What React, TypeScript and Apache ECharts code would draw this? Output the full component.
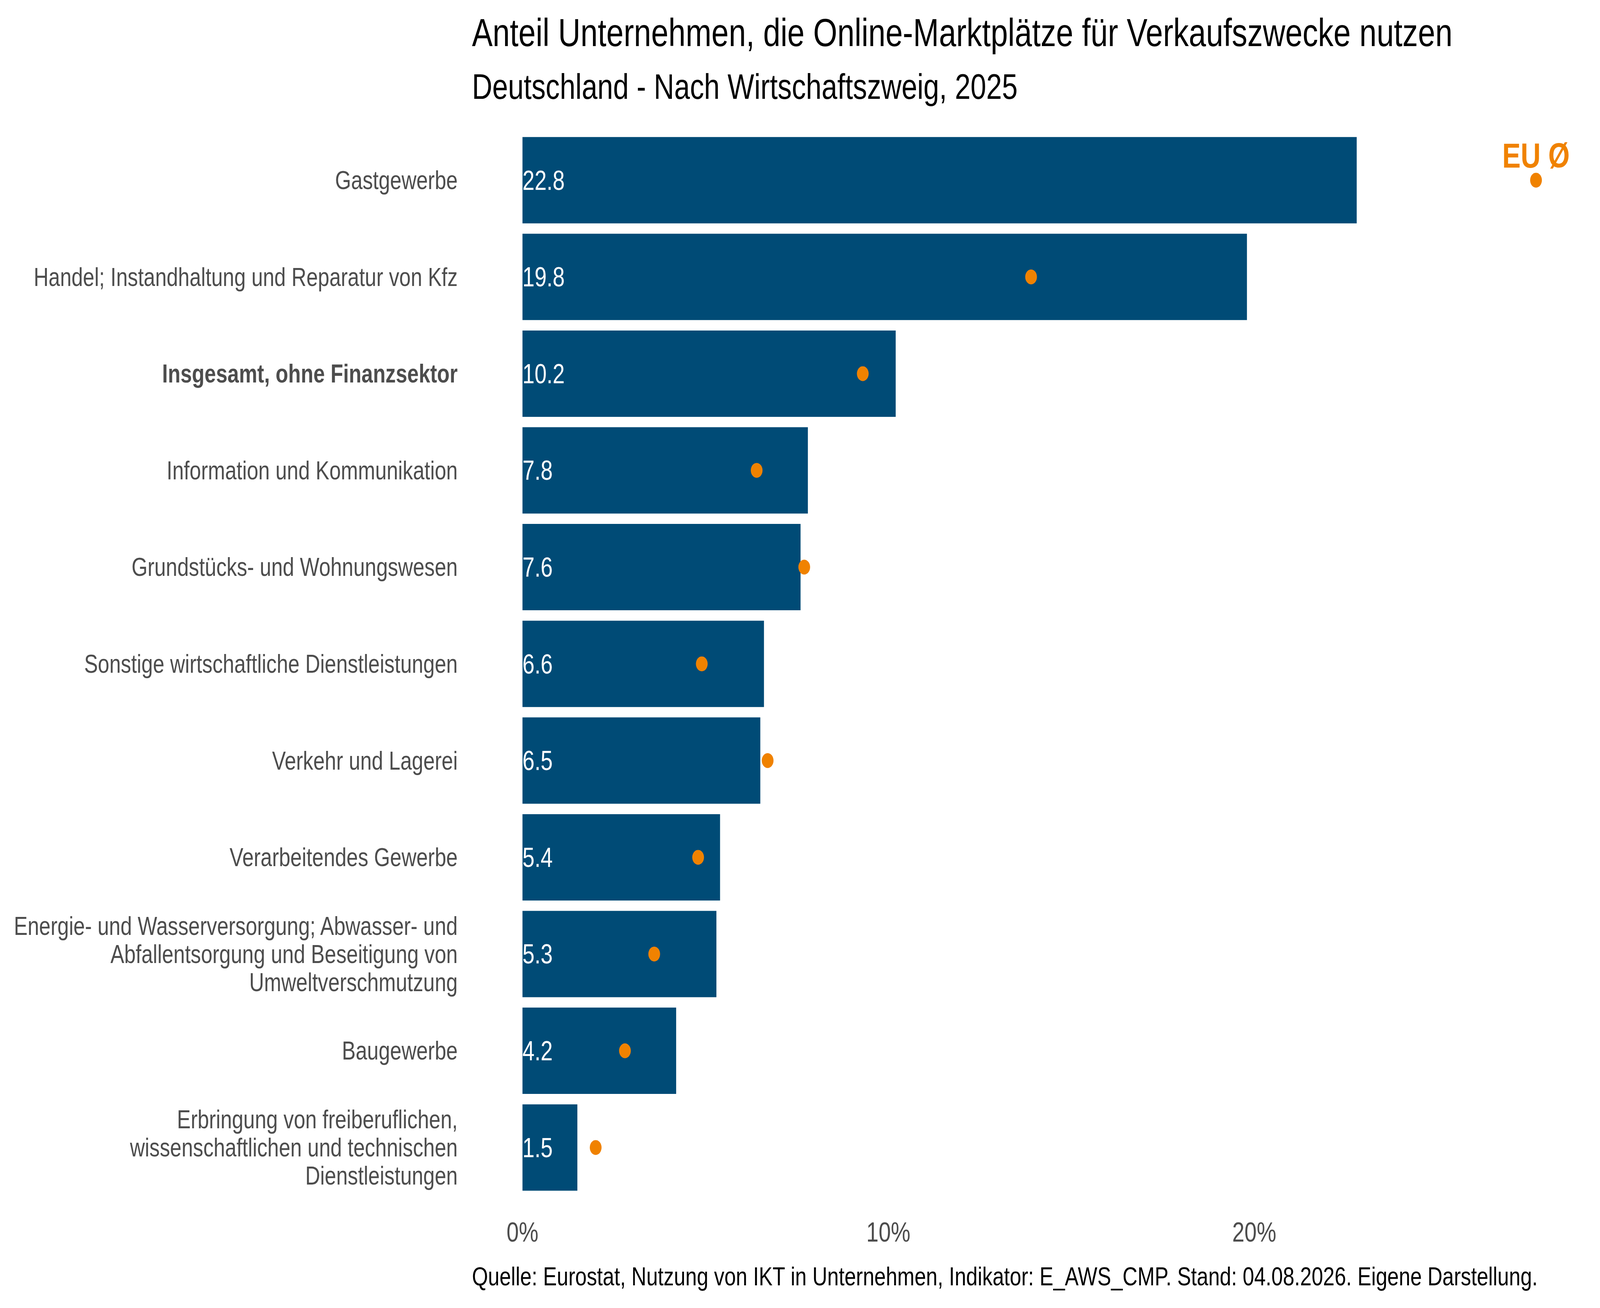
import React, { useEffect, useRef } from "react";
import * as echarts from "echarts";

const TITLE = "Anteil Unternehmen, die Online-Marktplätze für Verkaufszwecke nutzen";
const SUBTITLE = "Deutschland - Nach Wirtschaftszweig, 2025";
const SOURCE =
  "Quelle: Eurostat, Nutzung von IKT in Unternehmen, Indikator: E_AWS_CMP. Stand: 04.08.2026. Eigene Darstellung.";

const categories = [
  "Gastgewerbe",
  "Handel; Instandhaltung und Reparatur von Kfz",
  "Insgesamt, ohne Finanzsektor",
  "Information und Kommunikation",
  "Grundstücks- und Wohnungswesen",
  "Sonstige wirtschaftliche Dienstleistungen",
  "Verkehr und Lagerei",
  "Verarbeitendes Gewerbe",
  "Energie- und Wasserversorgung; Abwasser- und\nAbfallentsorgung und Beseitigung von\nUmweltverschmutzung",
  "Baugewerbe",
  "Erbringung von freiberuflichen,\nwissenschaftlichen und technischen\nDienstleistungen",
];
const highlightCategory = "Insgesamt, ohne Finanzsektor";

const deValues = [22.8, 19.8, 10.2, 7.8, 7.6, 6.6, 6.5, 5.4, 5.3, 4.2, 1.5];
const euValues = [27.7, 13.9, 9.3, 6.4, 7.7, 4.9, 6.7, 4.8, 3.6, 2.8, 2.0];

const xTickValues = [0, 10, 20];
const euLabel = "EU Ø";

const FONT = "'Liberation Sans', Arial, Helvetica, sans-serif";
const BAR_COLOR = "#004b76";
const EU_COLOR = "#f08200";

const W = 5160;
const H = 3348;

export default function App() {
  const outerRef = useRef<HTMLDivElement>(null);
  const ref = useRef<HTMLDivElement>(null);

  useEffect(() => {
    document.body.style.margin = "0";
    document.body.style.overflow = "hidden";
    const vw = window.innerWidth || W;
    const vh = window.innerHeight || H;
    const sx = Math.min(1, vw / W);
    const sy = Math.min(1, vh / H);
    const outer = outerRef.current as HTMLDivElement;
    outer.style.width = `${W * sx}px`;
    outer.style.height = `${H * sy}px`;
    const el = ref.current as HTMLDivElement;
    el.style.transform = `scale(${sx}, ${sy})`;

    const chart = echarts.init(el, null, { renderer: "svg" });
    chart.setOption({
      animation: false,
      backgroundColor: "#ffffff",
      textStyle: { fontFamily: FONT },
      title: [
        {
          text: TITLE,
          left: 1522,
          top: 33,
          padding: 0,
          textStyle: { fontFamily: FONT, fontSize: 100, fontWeight: "normal", color: "#000000" },
        },
        {
          text: SUBTITLE,
          left: 1522,
          top: 176,
          padding: 0,
          textStyle: { fontFamily: FONT, fontSize: 91, fontWeight: "normal", color: "#000000" },
        },
        {
          text: SOURCE,
          left: 1522,
          top: 3234,
          padding: 0,
          textStyle: { fontFamily: FONT, fontSize: 66.6, fontWeight: "normal", color: "#000000" },
        },
      ],
      grid: { left: 1685, top: 337.4, height: 2723.6, width: 3304, containLabel: false },
      xAxis: {
        type: "value",
        min: 0,
        max: 28,
        interval: 10,
        axisLine: { show: false },
        axisTick: { show: false },
        splitLine: { show: false },
        axisLabel: {
          fontFamily: FONT,
          fontSize: 71,
          color: "#4d4d4d",
          margin: 57,
          formatter: (v: number) => (xTickValues.includes(v) ? `${v}%` : ""),
        },
      },
      yAxis: {
        type: "category",
        data: categories,
        inverse: true,
        axisLine: { show: false },
        axisTick: { show: false },
        splitLine: { show: false },
        axisLabel: {
          fontFamily: FONT,
          fontSize: 66.5,
          lineHeight: 72,
          color: "#4d4d4d",
          margin: 209,
          align: "right",
          interval: 0,
          formatter: (v: string) => (v === highlightCategory ? `{b|${v}}` : v),
          rich: {
            b: { fontFamily: FONT, fontSize: 66.5, fontWeight: "bold", color: "#4d4d4d", lineHeight: 72 },
          },
        },
      },
      series: [
        {
          type: "bar",
          data: deValues,
          barWidth: 221,
          itemStyle: { color: BAR_COLOR },
          label: {
            show: true,
            position: "insideLeft",
            distance: 0,
            color: "#ffffff",
            fontFamily: FONT,
            fontSize: 70,
            formatter: (p: any) => Number(p.value).toFixed(1),
          },
          z: 2,
        },
        {
          type: "scatter",
          symbol: "circle",
          symbolSize: 38,
          itemStyle: { color: EU_COLOR, opacity: 1 },
          z: 3,
          data: euValues.map((v, i) =>
            i === 0
              ? {
                  value: [v, categories[i]],
                  label: {
                    show: true,
                    position: "top",
                    distance: 0,
                    formatter: euLabel,
                    color: EU_COLOR,
                    fontFamily: FONT,
                    fontSize: 89,
                    fontWeight: "bold",
                  },
                }
              : { value: [v, categories[i]] }
          ),
        },
      ],
    });
    return () => chart.dispose();
  }, []);

  return (
    <div ref={outerRef} style={{ overflow: "hidden", position: "relative", background: "#ffffff" }}>
      <div
        ref={ref}
        style={{ width: W, height: H, transformOrigin: "0 0", position: "absolute", left: 0, top: 0 }}
      />
    </div>
  );
}
